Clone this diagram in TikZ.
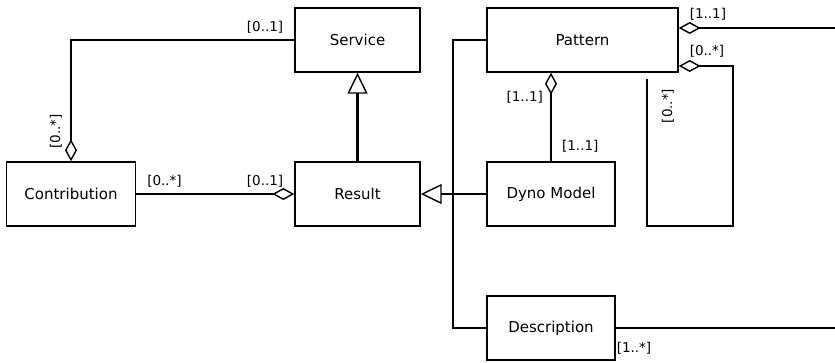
\documentclass[tikz,border=0pt]{standalone}
\usepackage{fontspec}
\setmainfont{DejaVu Sans}
\usetikzlibrary{arrows.meta,positioning}
\tikzset{%
classnode/.style={rectangle, draw=black, line width=1.4pt, fill=white, minimum width=125pt, minimum height=64pt, inner sep=0pt, font=\fontsize{15}{17}\selectfont},
assoc/.style={draw=black, line width=2.2pt},
mult/.style={inner sep=1pt, font=\fontsize{13.5}{15}\selectfont},
aggr/.tip={Diamond[open, length=22pt, width=12pt, line width=1.4pt]},
inh/.tip={Triangle[open, length=21pt, width=20pt, line width=1.4pt]}
}
\begin{document}
\begin{tikzpicture}[x=1pt,y=-1pt,node distance=154pt]
		\useasboundingbox (0,0) rectangle (835,363);
		\node[classnode, minimum width=129pt] (contribution) at (71,194) {Contribution};
		\node[classnode] (result) [right of=contribution, xshift=132.5pt] {Result};
		\node[classnode] (service) [above of=result] {Service};
		\node[classnode, minimum width=128pt] (dyno) [right of=result, xshift=39.5pt] {Dyno Model};
		\node[classnode, minimum width=191pt] (pattern) [above of=dyno, xshift=31.5pt] {Pattern};
		\node[classnode, minimum width=128pt] (description) [below of=dyno, yshift=20pt] {Description};
		\coordinate (trunk) at (453,194);
		\coordinate (loopcorner) at (733,226);
		\coordinate (loopend) at (647,79);
		\coordinate (eastone) at (835,28);
		\coordinate (easttwo) at (835,328);

		\draw[assoc, aggr-] (contribution.north)
			node[mult, xshift=-15pt, yshift=30pt, rotate=90] (mcs) {[0..*]}
			|- (service.west) node[mult, above left, xshift=-9pt, yshift=5pt] (msc) {[0..1]};
		\draw[assoc, -aggr] (contribution.east)
			node[mult, above right, xshift=9pt, yshift=5pt] (mcr) {[0..*]}
			-- (result.west) node[mult, above left, xshift=-9pt, yshift=5pt] (mrc) {[0..1]};
		\draw[assoc, -inh] (result.north) -- (service.south);
		\draw[assoc, -inh] (dyno.west) -- (result.east);
		\draw[assoc] (pattern.west) -| (trunk) |- (description.west);
		\draw[assoc, -aggr] (dyno.north)
			node[mult, above right, xshift=9pt, yshift=7pt] (mdp) {[1..1]}
			-- (dyno.north |- pattern.south) node[mult, left, xshift=-6pt, yshift=-25pt] (mpd) {[1..1]};
		\draw[assoc, aggr-] ([yshift=12pt]pattern.east)
			node[mult, above right, xshift=9pt, yshift=6pt] (mpo) {[1..1]} -- (eastone);
		\draw[assoc, aggr-] ([yshift=-26pt]pattern.east)
			node[mult, above right, xshift=9pt, yshift=6.5pt] (mps) {[0..*]}
			-| (loopcorner) -| (loopend)
			node[mult, xshift=21pt, yshift=-27pt, rotate=90] (mpe) {[0..*]};
		\draw[assoc] (description.east)
			node[mult, below right, xshift=-1pt, yshift=-12pt] (mdo) {[1..*]} -- (easttwo);
	\end{tikzpicture}
\end{document}
